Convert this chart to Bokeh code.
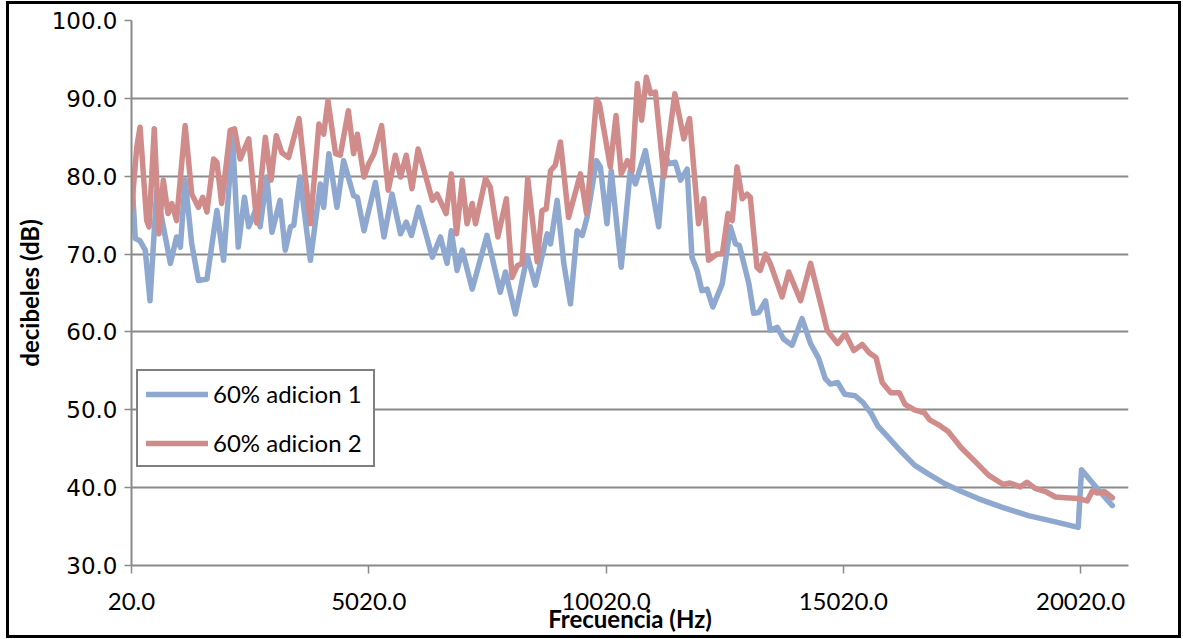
from bokeh.plotting import figure
from bokeh.models import Range1d, FixedTicker, NumeralTickFormatter, Legend, LegendItem
from bokeh.embed import file_html
from bokeh.resources import INLINE

# ---- data ----
freq_1 = [20, 100, 200, 310, 410, 550, 840, 970, 1050, 1150, 1290, 1430, 1610, 1820, 1960,
          2150, 2270, 2400, 2490, 2660, 2730, 2870, 2980, 3150, 3260, 3370, 3440, 3570, 3790,
          4000, 4070, 4180, 4350, 4490, 4700, 4780, 4920, 5160, 5340, 5510, 5690, 5810, 5920,
          6070, 6360, 6530, 6670, 6760, 6880, 6990, 7200, 7510, 7790, 7900, 8110, 8360, 8530,
          8780, 8850, 8990, 9130, 9270, 9410, 9520, 9620, 9820, 9900, 10040, 10130, 10340,
          10530, 10640, 10850, 11130, 11260, 11340, 11480, 11590, 11730, 11830, 11940, 12040,
          12150, 12270, 12470, 12640, 12750, 12830, 13030, 13130, 13240, 13380, 13480, 13630,
          13760, 13940, 14150, 14330, 14500, 14640, 14750, 14900, 15050, 15270, 15440, 15600,
          15750, 15930, 16230, 16520, 16800, 17160, 17510, 17860, 18360, 18920, 19490, 19970,
          20040, 20340, 20690]
db_1 = [80.5, 72.0, 71.7, 70.5, 64.0, 78.0, 68.8, 72.2, 70.9, 79.5, 71.3, 66.6, 66.8, 75.6, 69.2,
        85.0, 70.9, 77.3, 73.5, 76.0, 73.5, 79.9, 72.8, 76.9, 70.5, 73.5, 73.7, 79.9, 69.2,
        79.0, 76.0, 82.9, 76.0, 82.0, 77.5, 77.3, 73.0, 79.2, 72.2, 77.7, 72.6, 74.1, 72.4,
        76.0, 69.6, 72.2, 68.8, 73.0, 67.9, 70.5, 65.5, 72.4, 65.1, 67.7, 62.3, 69.8, 66.0,
        72.6, 71.3, 76.9, 68.8, 63.6, 73.0, 72.4, 74.7, 82.0, 81.2, 73.9, 80.7, 68.3,
        80.7, 79.0, 83.3, 73.5, 82.9, 81.6, 81.8, 79.5, 80.9, 69.6, 67.9, 65.3,
        65.5, 63.2, 66.2, 73.5, 71.3, 71.1, 66.2, 62.4, 62.5, 64.0, 60.2, 60.6,
        59.1, 58.3, 61.7, 58.5, 56.6, 54.0, 53.3, 53.5, 52.0, 51.8, 50.9, 49.6,
        47.9, 46.7, 44.7, 42.9, 41.8, 40.5, 39.5, 38.6, 37.5, 36.4, 35.6, 34.9,
        42.3, 40.1, 37.7]

freq_2 = [20, 130, 200, 340, 390, 500, 600, 690, 790, 870, 970, 1150, 1290, 1430, 1520, 1610,
          1750, 1820, 1920, 2100, 2190, 2310, 2490, 2660, 2840, 2960, 3070, 3190, 3330, 3550,
          3790, 3970, 4070, 4160, 4320, 4420, 4590, 4700, 4780, 4920, 5020, 5130, 5290, 5430,
          5580, 5690, 5810, 5930, 6060, 6360, 6460, 6650, 6760, 6870, 6990, 7090, 7200, 7270,
          7480, 7580, 7740, 7920, 8040, 8150, 8250, 8370, 8570, 8670, 8760, 8850, 8950, 9060,
          9230, 9480, 9610, 9820, 9880, 10110, 10230, 10340, 10470, 10570, 10680, 10770, 10870,
          10960, 11060, 11240, 11470, 11660, 11780, 11970, 12080, 12180, 12360, 12470, 12590,
          12680, 12780, 12890, 12990, 13060, 13200, 13270, 13380, 13480, 13730, 13870, 14120,
          14330, 14540, 14680, 14900, 15060, 15240, 15420, 15570, 15710, 15840, 16020, 16200,
          16320, 16520, 16730, 16840, 17020, 17230, 17510, 17790, 18080, 18390, 18530, 18750,
          18890, 19060, 19280, 19490, 19700, 19980, 20160, 20270, 20370, 20520, 20690]
db_2 = [75.6, 83.7, 86.3, 74.3, 73.5, 86.1, 72.6, 79.5, 75.2, 76.5, 74.3, 86.5, 77.7, 76.0, 77.3, 75.4,
        82.2, 81.8, 76.5, 85.9, 86.1, 82.2, 84.8, 74.0, 85.0, 79.5, 85.2, 83.0, 82.4, 87.4,
        73.9, 86.7, 85.4, 89.7, 82.9, 82.7, 88.4, 82.9, 85.4, 79.9, 81.6, 82.9, 86.5, 78.2,
        82.7, 79.9, 82.7, 78.4, 83.5, 76.9, 77.7, 75.2, 80.3, 72.6, 79.5, 73.9, 76.5, 73.9,
        79.7, 78.6, 72.2, 77.1, 67.0, 68.5, 68.8, 79.7, 69.0, 75.6, 75.8, 80.7, 81.4, 84.4,
        74.7, 80.3, 75.2, 89.9, 89.3, 81.2, 87.8, 80.3, 82.0, 80.7, 91.9, 87.2, 92.7,
        90.6, 90.8, 79.9, 90.6, 84.8, 87.4, 73.9, 77.1, 69.2, 70.0, 70.0, 75.2,
        74.3, 81.2, 77.1, 77.7, 77.3, 68.3, 67.9, 70.0, 68.8, 64.5, 67.7, 64.0,
        68.8, 63.7, 60.2, 58.5, 59.8, 57.6, 58.4, 57.3, 56.7, 53.5, 52.2, 52.2,
        50.7, 50.0, 49.6, 48.7, 48.1, 47.2, 45.1, 43.4, 41.6, 40.4, 40.6, 40.1,
        40.7, 39.9, 39.5, 38.8, 38.7, 38.6, 38.3, 39.6, 39.3, 39.5, 38.7]

series_names = ["60% adicion 1", "60% adicion 2"]
x_ticks = [20, 5020, 10020, 15020, 20020]
y_ticks = [30, 40, 50, 60, 70, 80, 90, 100]

BLUE = "#8EA8CF"
RED = "#CF8C8A"
GRID = "#8A8A8A"

p = figure(frame_width=997, frame_height=545, output_backend="svg", toolbar_location=None,
           x_range=Range1d(20, 21030), y_range=Range1d(30, 100),
           min_border_left=122, min_border_right=50, min_border_top=16, min_border_bottom=69)
p.styles = {"border": "3px solid black", "box-sizing": "content-box",
            "margin-left": "6px", "margin-top": "1px"}
p.outline_line_color = None
p.background_fill_color = "white"
p.border_fill_color = "white"

r1 = p.line(freq_1, db_1, line_color=BLUE, line_width=5.5, line_join="round", line_cap="round")
r2 = p.line(freq_2, db_2, line_color=RED, line_width=5.5, line_join="round", line_cap="round")

# grid
p.xgrid.visible = False
p.ygrid.ticker = FixedTicker(ticks=y_ticks)
p.ygrid.grid_line_color = GRID
p.ygrid.grid_line_width = 2

# x axis
xa = p.xaxis[0]
xa.ticker = FixedTicker(ticks=x_ticks)
xa.formatter = NumeralTickFormatter(format="0.0")
xa.axis_line_color = GRID
xa.axis_line_width = 2
xa.major_tick_line_color = GRID
xa.major_tick_line_width = 1.5
xa.major_tick_out = 8
xa.major_tick_in = 0
xa.minor_tick_line_color = None
xa.major_label_text_font = "Lato"
xa.major_label_text_font_size = "24px"
xa.major_label_text_color = "black"
xa.major_label_standoff = 19
xa.axis_label = "Frecuencia (Hz)"
xa.axis_label_text_font = "Lato"
xa.axis_label_text_font_style = "bold"
xa.axis_label_text_font_size = "24px"
xa.axis_label_text_color = "black"
xa.axis_label_standoff = -9

# y axis
ya = p.yaxis[0]
ya.ticker = FixedTicker(ticks=y_ticks)
ya.formatter = NumeralTickFormatter(format="0.0")
ya.axis_line_color = GRID
ya.axis_line_width = 2
ya.major_tick_line_color = GRID
ya.major_tick_line_width = 1.5
ya.major_tick_out = 7
ya.major_tick_in = 0
ya.minor_tick_line_color = None
ya.major_label_text_font = "DejaVu Sans"
ya.major_label_text_font_size = "23px"
ya.major_label_text_color = "black"
ya.major_label_standoff = 7
ya.axis_label = "decibeles (dB)"
ya.axis_label_text_font = "Lato"
ya.axis_label_text_font_style = "bold"
ya.axis_label_text_font_size = "24px"
ya.axis_label_text_color = "black"
ya.axis_label_standoff = 5

legend = Legend(items=[LegendItem(label=series_names[0], renderers=[r1]),
                       LegendItem(label=series_names[1], renderers=[r2])],
                location=(5, 98), orientation="vertical")
legend.border_line_color = "black"
legend.border_line_width = 2
legend.background_fill_color = "white"
legend.background_fill_alpha = 1
legend.label_text_font = "Lato"
legend.label_text_font_size = "24px"
legend.label_text_color = "black"
legend.glyph_width = 62
legend.glyph_height = 20
legend.label_height = 20
legend.label_width = 152
legend.label_standoff = 5
legend.spacing = 20
legend.padding = 8
legend.margin = 0
legend.label_text_baseline = "middle"
p.add_layout(legend, "center")

open("out.html", "w").write(file_html(p, INLINE))
